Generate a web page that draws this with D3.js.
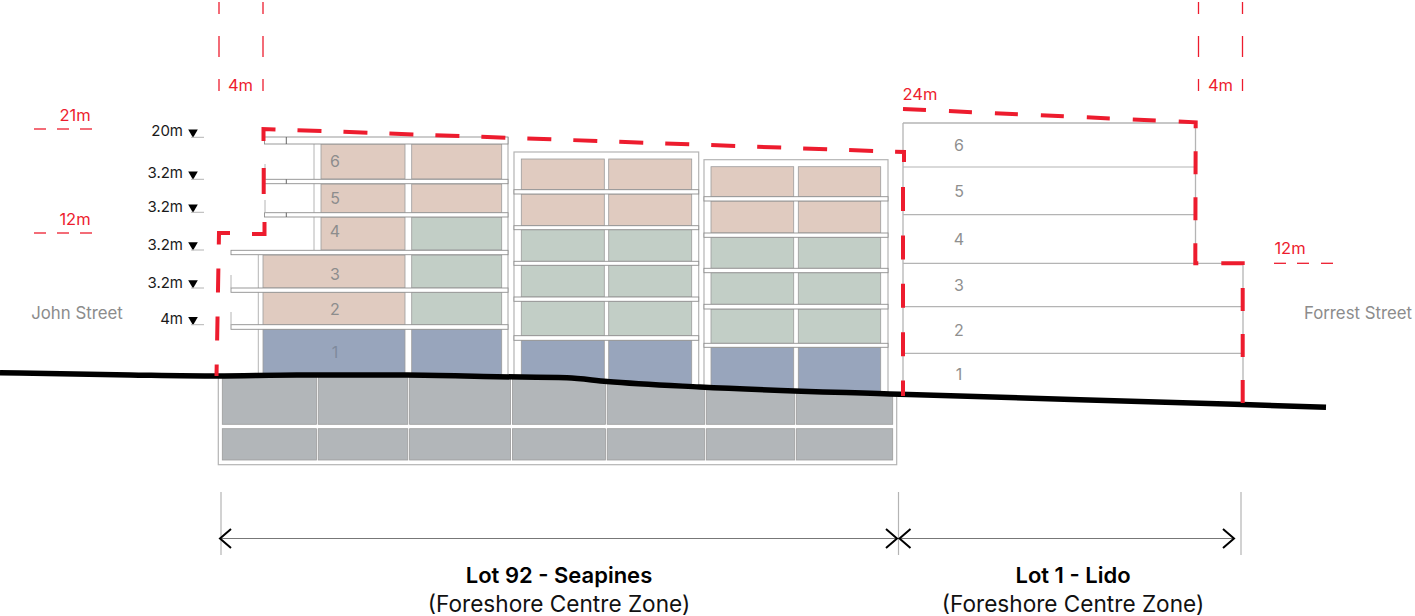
<!DOCTYPE html>
<html><head><meta charset="utf-8">
<script src="https://cdn.jsdelivr.net/npm/d3@7"></script>
<style>html,body{margin:0;padding:0;background:#fff}svg{display:block}text{font-family:Inter,"Noto Sans",sans-serif}</style>
</head><body><div id="chart"></div>
<script>
// ---- section drawing values (section units) ----
const groundX = [0,130,217,297,407,497,567,607,700,900,1243,1326];
const groundY = [372.7,375,376,375,375,376.7,377.8,381.5,387,394.3,404.5,407.3];

// planning envelope: each run is [xs, ys, dash pattern, dash offset]
const envelopeRunsX = [
  [216.5,219,230],[252,264.5,264.5],[263.7,263.7],[263.5,263.5,904,904],[903,903]
];
const envelopeRunsY = [
  [376,233,233],[234,234,222],[194,168],[141,129,152,162],[187,396]
];
const envelopeRunsDash = ["24 24","none","none","24 22","24 24.4"];
const envelopeRunsOffset = [12.5,0,0,0,0];
const envelopeLidoX = [903,1195.7,1195.3,1242.7,1242.7];
const envelopeLidoY = [109,122.3,263.3,263.3,403];

// Block A (stepped block at John Street)
const blockARowTop =    [144,184,217,255,292,329];
const blockARowBottom = [179,213,250,288,325,385];
const blockACol1Left =  [321,321,321,263,263,263];
const blockACol1Use =   ["res","res","res","res","res","com"];
const blockACol2Use =   ["res","res","hot","hot","hot","com"];
const blockASlabTop =    [137,179.3,212.7,250.3,288,324.7];
const blockASlabBottom = [144,183.7,217,254.7,292.3,329.3];
const blockASlabLeft =   [264.5,264.5,264.5,231,231,231];

// Block B
const blockBRowTop =    [159,194,229.7,265.3,301.3,340.3];
const blockBRowBottom = [189.7,225.7,261.3,297,335.7,392];
const blockBUse =       ["res","res","hot","hot","hot","com"];
const blockBSlabTop =    [189.7,225.7,261.3,297,335.7];
const blockBSlabBottom = [194,229.7,265.3,301.3,340.3];

// Block C
const blockCRowTop =    [166.7,201,237.3,272.7,309,347.3];
const blockCRowBottom = [196.7,233,268.3,304.3,343.3,400];
const blockCUse =       ["res","res","hot","hot","hot","com"];
const blockCSlabTop =    [196.7,233,268.3,304.3,343.3];
const blockCSlabBottom = [201,237.3,272.7,309,347.3];

// Basement
const basementEdges = [222.3,317.3,408.7,511.5,606.3,705.7,795.7,892.7];
const basementRowTop = [360,428.7];
const basementRowBottom = [424.3,460];

// Lido
const lidoFloorY =   [167,214.7,263.3,306.7,353.3];
const lidoFloorEnd = [1195.5,1195.5,1243,1243,1243];

// Labels
const floorNames = ["6","5","4","3","2","1"];
const blockAFloorY = [161,198,231,274,309,352];
const lidoFloorLabelY = [145,191,239,285,330,374];
const levelLabels = ["20m","3.2m","3.2m","3.2m","3.2m","4m"];
const levelLabelY = [130.7,172.7,206.7,244.3,282,318.7];
const levelLineY = [137.3,179.3,212.3,250,288,324.7];
const setbackTickRanges = [[2,14],[36,57],[79,91]];
const setbackTickX = [219,263,1198.5,1242.5];
const heightDashRanges = [[34,46],[57,69],[80,92]];
const heightDashYLeft = [129,233];
const heightDashRight = [[1274,1286],[1297,1309],[1321,1333]];

// ---- scales ----
const width = 1415, height = 616;
const x = d3.scaleLinear().domain([0,1415]).range([0,width]);
const y = d3.scaleLinear().domain([0,616]).range([0,height]);
const useColour = d3.scaleOrdinal().domain(["res","hot","com","car"]).range(["#e0cbc0","#c2cec6","#98a5bc","#b2b6b9"]);
const red = "#ed1c2e", lineGrey = "#b4b4b4", cellEdge = "#9c9c9c", textGrey = "#8c8c8c";

const svg = d3.select("#chart").append("svg").attr("width",width).attr("height",height).attr("viewBox",`0 0 ${width} ${height}`);
const ground = d3.zip(groundX,groundY);
const defs = svg.append("defs");
defs.append("clipPath").attr("id","above").append("path")
  .attr("d",d3.area().curve(d3.curveMonotoneX).x(d=>x(d[0])).y0(0).y1(d=>y(d[1]))(ground));
defs.append("clipPath").attr("id","below").append("path")
  .attr("d",d3.area().curve(d3.curveMonotoneX).x(d=>x(d[0])).y0(height).y1(d=>y(d[1]))(ground));

const line = d3.line().x(d=>x(d[0])).y(d=>y(d[1]));
function rect(g,x0,y0,x1,y1,fill,stroke,sw){
  return g.append("rect").attr("x",x(x0)).attr("y",y(y0)).attr("width",x(x1)-x(x0)).attr("height",y(y1)-y(y0))
    .attr("fill",fill).attr("stroke",stroke).attr("stroke-width",sw);
}
function seg(g,x0,y0,x1,y1,stroke,sw){
  return g.append("path").attr("d",line([[x0,y0],[x1,y1]])).attr("fill","none").attr("stroke",stroke).attr("stroke-width",sw);
}

// ---- basement ----
const gBase = svg.append("g").attr("clip-path","url(#below)");
rect(gBase,218.3,360,896.7,464.7,"#fff",lineGrey,1.2);
basementRowTop.forEach((t,r)=>{
  d3.pairs(basementEdges).forEach(([a,b],i)=>{
    rect(gBase,a+(i?.9:0),t,b-(i<basementEdges.length-2?.9:0),basementRowBottom[r],useColour("car"),cellEdge,.8);
  });
});

// ---- blocks ----
const gBlocks = svg.append("g").attr("clip-path","url(#above)");
// Block A
seg(gBlocks,508,137,508,385,lineGrey,1.2);
seg(gBlocks,314,144,314,250,lineGrey,1);
seg(gBlocks,258.3,255,258.3,385,lineGrey,1);
blockARowTop.forEach((t,i)=>{
  rect(gBlocks,blockACol1Left[i],t,405,blockARowBottom[i],useColour(blockACol1Use[i]),cellEdge,.8);
  rect(gBlocks,411.7,t,501.7,blockARowBottom[i],useColour(blockACol2Use[i]),cellEdge,.8);
});
blockASlabTop.forEach((t,i)=>{
  rect(gBlocks,blockASlabLeft[i],t,508,blockASlabBottom[i],"#fff","#8f8f8f",.9);
});
[[286.3,137,144],[286.3,179.3,183.7],[286.3,212.7,217]].forEach(d=>seg(gBlocks,d[0],d[1],d[0],d[2],"#555",.9));
[[265,164,179.3],[265,200,212.7],[231,275,288],[231,312,324.7]].forEach(d=>seg(gBlocks,d[0],d[1],d[0],d[2],lineGrey,1));

function drawBlock(top,left,right,c1a,c1b,c2a,c2b,tops,bottoms,uses,slabT,slabB){
  rect(gBlocks,left,top,right,410,"#fff",lineGrey,1.2);
  tops.forEach((t,i)=>{
    rect(gBlocks,c1a,t,c1b,bottoms[i],useColour(uses[i]),cellEdge,.8);
    rect(gBlocks,c2a,t,c2b,bottoms[i],useColour(uses[i]),cellEdge,.8);
  });
  slabT.forEach((t,i)=>rect(gBlocks,left,t,right,slabB[i],"#fff","#8f8f8f",.9));
}
drawBlock(152,514,698.7,521.3,604.3,608.7,691.7,blockBRowTop,blockBRowBottom,blockBUse,blockBSlabTop,blockBSlabBottom);
drawBlock(159.7,704,888,711,793.7,798.3,880.7,blockCRowTop,blockCRowBottom,blockCUse,blockCSlabTop,blockCSlabBottom);

// ---- Lido outline ----
const gLido = svg.append("g");
seg(gLido,903,123,1195.5,123,lineGrey,1.3);
seg(gLido,903,123,903,395,lineGrey,1.3);
seg(gLido,1195.5,123,1195.5,263.3,lineGrey,1.3);
seg(gLido,1243,263.3,1243,402,lineGrey,1.3);
lidoFloorY.forEach((v,i)=>seg(gLido,903,v,lidoFloorEnd[i],v,lineGrey,1.2));

// ---- floor numbers ----
const numberText = (xv,yv,s,fill)=>svg.append("text").attr("x",x(xv)).attr("y",y(yv)).attr("text-anchor","middle")
  .attr("dominant-baseline","central").attr("font-size",16).attr("fill",fill).text(s);
floorNames.forEach((s,i)=>{
  numberText(335,blockAFloorY[i],s,i===5?"#7f8a9c":"#8d8d8d");
  numberText(959,lidoFloorLabelY[i],s,"#8f8f8f");
});

// ---- ground ----
svg.append("path").attr("d",d3.line().curve(d3.curveMonotoneX).x(d=>x(d[0])).y(d=>y(d[1]))(ground))
  .attr("fill","none").attr("stroke","#000").attr("stroke-width",5.5);

// ---- planning envelope ----
const envLine = (xs,ys,dash,off)=>svg.append("path").attr("d",line(d3.zip(xs,ys))).attr("fill","none")
  .attr("stroke",red).attr("stroke-width",4).attr("stroke-linejoin","miter")
  .attr("stroke-dasharray",dash).attr("stroke-dashoffset",off);
envelopeRunsX.forEach((xs,i)=>envLine(xs,envelopeRunsY[i],envelopeRunsDash[i],envelopeRunsOffset[i]));
envLine(envelopeLidoX,envelopeLidoY,"23 23",0);

// ---- red annotations ----
const gRed = svg.append("g");
setbackTickX.forEach(v=>setbackTickRanges.forEach(r=>seg(gRed,v,r[0],v,r[1],red,1.3)));
heightDashYLeft.forEach(v=>heightDashRanges.forEach(r=>seg(gRed,r[0],v,r[1],v,red,1.3)));
heightDashRight.forEach(r=>seg(gRed,r[0],263.3,r[1],263.3,red,1.3));
const redText = (xv,yv,s)=>gRed.append("text").attr("x",x(xv)).attr("y",y(yv)).attr("text-anchor","middle")
  .attr("dominant-baseline","central").attr("font-size",16.5).attr("fill",red).text(s);
redText(240.5,85,"4m"); redText(1220.5,85,"4m"); redText(75,115,"21m"); redText(75,218.5,"12m");
redText(920,93.5,"24m"); redText(1290,248,"12m");

// ---- level markers ----
const tri = d3.symbol().type(d3.symbolTriangle).size(40);
levelLabels.forEach((s,i)=>{
  svg.append("text").attr("x",x(183)).attr("y",y(levelLabelY[i])).attr("text-anchor","end").attr("dominant-baseline","central")
    .attr("font-size",15).attr("fill","#1a1a1a").text(s);
  svg.append("path").attr("d",tri()).attr("transform",`translate(${x(193)},${y(levelLineY[i]-5)}) rotate(180)`).attr("fill","#000");
  seg(svg,191,levelLineY[i],204,levelLineY[i],lineGrey,1);
});

// ---- street labels ----
svg.append("text").attr("x",x(77)).attr("y",y(313)).attr("text-anchor","middle").attr("dominant-baseline","central").attr("font-size",16.8).attr("fill",textGrey).text("John Street");
svg.append("text").attr("x",x(1358)).attr("y",y(313)).attr("text-anchor","middle").attr("dominant-baseline","central").attr("font-size",16.8).attr("fill",textGrey).text("Forrest Street");

// ---- dimension lines ----
const dimY = 538.5;
[[221],[898.5],[1241]].forEach(d=>seg(svg,d[0],492,d[0],555,lineGrey,1.2));
seg(svg,221,dimY,1235,dimY,"#777",1);
const chevron = (tipX,dir)=>svg.append("path").attr("d",line([[tipX+dir*11,dimY-9.5],[tipX,dimY],[tipX+dir*11,dimY+9.5]]))
  .attr("fill","none").attr("stroke","#000").attr("stroke-width",2);
chevron(220,1); chevron(897,-1); chevron(899.5,1); chevron(1234,-1);

// ---- lot captions ----
const lotName = ["Lot 92 - Seapines","Lot 1 - Lido"];
const lotZone = ["(Foreshore Centre Zone)","(Foreshore Centre Zone)"];
const lotCentre = [559,1073];
lotName.forEach((s,i)=>{
  svg.append("text").attr("x",x(lotCentre[i])).attr("y",y(575)).attr("text-anchor","middle").attr("dominant-baseline","central")
    .attr("font-size",22).attr("font-weight",600).attr("fill","#000").text(s);
  svg.append("text").attr("x",x(lotCentre[i])).attr("y",y(603)).attr("text-anchor","middle").attr("dominant-baseline","central")
    .attr("font-size",22.6).attr("fill","#111").text(lotZone[i]);
});
</script></body></html>
